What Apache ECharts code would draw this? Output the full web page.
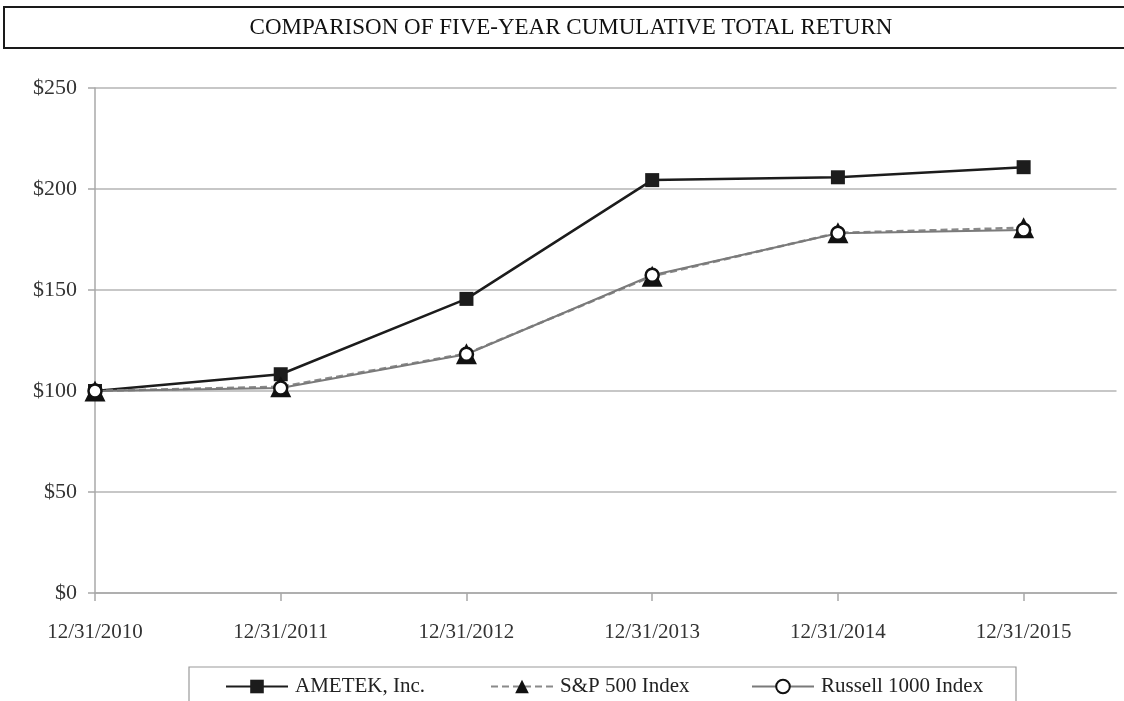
<!DOCTYPE html>
<html>
<head>
<meta charset="utf-8">
<script src="https://cdn.jsdelivr.net/npm/echarts@6/dist/echarts.min.js"></script>
<style>
html,body{margin:0;padding:0;background:#fff;}
#chart{width:1124px;height:701px;}
</style>
</head>
<body>
<div id="chart"></div>
<script>
const titleText = 'COMPARISON OF FIVE-YEAR CUMULATIVE TOTAL RETURN';
const categories = ['12/31/2010','12/31/2011','12/31/2012','12/31/2013','12/31/2014','12/31/2015'];
const ametek = [100, 108.3, 145.6, 204.4, 205.8, 210.8];
const sp500 = [100, 102.1, 118.5, 156.8, 178.3, 180.8];
const russell = [100, 101.5, 118.2, 157.3, 178.1, 179.7];
const yTicks = [0, 50, 100, 150, 200, 250];
const seriesNames = ['AMETEK, Inc.', 'S&P 500 Index', 'Russell 1000 Index'];

const FONT = "'Liberation Serif','Times New Roman',serif";
const toPairs = arr => arr.map((v, i) => [i, v]);
const chart = echarts.init(document.getElementById('chart'), null, {renderer: 'canvas'});

const legendBase = {
  top: 676, itemWidth: 62, itemHeight: 17, itemGap: 0, padding: 0,
  textStyle: {fontFamily: FONT, fontSize: 21, color: '#222', padding: [0,0,0,2]}
};

chart.setOption({
  animation: false,
  backgroundColor: '#fff',
  graphic: [
    {type: 'rect', shape: {x: 4, y: 7, width: 1130, height: 41}, style: {fill: 'none', stroke: '#1a1a1a', lineWidth: 2}},
    {type: 'text', x: 571, y: 28, style: {text: titleText, font: "23px 'Liberation Serif','Times New Roman',serif", fill: '#111', align: 'center', verticalAlign: 'middle'}},
    {type: 'rect', shape: {x: 189, y: 667, width: 827, height: 60}, style: {fill: 'none', stroke: '#9a9a9a', lineWidth: 1.2}}
  ],
  grid: {left: 95, right: 7.5, top: 88, bottom: 108, containLabel: false},
  xAxis: {
    type: 'value', min: 0, max: 5.5, interval: 1,
    axisLine: {show: true, lineStyle: {color: '#a8a8a8', width: 1.5}},
    axisTick: {show: true, length: 8, customValues: [0,1,2,3,4,5], lineStyle: {color: '#a8a8a8', width: 1.5}},
    axisLabel: {
      customValues: [0,1,2,3,4,5], margin: 29,
      formatter: v => (Number.isInteger(v) && categories[v]) ? categories[v] : '',
      fontFamily: FONT, fontSize: 21, color: '#333'
    },
    splitLine: {show: false}
  },
  yAxis: {
    type: 'value', min: 0, max: 250, interval: 50,
    axisLine: {show: true, lineStyle: {color: '#a8a8a8', width: 1.5}},
    axisTick: {show: true, length: 7, lineStyle: {color: '#a8a8a8', width: 1.5}},
    axisLabel: {margin: 18, formatter: v => yTicks.includes(v) ? '$' + v : '', fontFamily: FONT, fontSize: 22, color: '#333'},
    splitLine: {show: true, lineStyle: {color: '#b4b4b4', width: 1.5}}
  },
  legend: [
    Object.assign({}, legendBase, {left: 225, data: [seriesNames[0]]}),
    Object.assign({}, legendBase, {left: 490, data: [seriesNames[1]]}),
    Object.assign({}, legendBase, {left: 751, data: [seriesNames[2]]})
  ],
  series: [
    {
      name: seriesNames[0], type: 'line', data: toPairs(ametek), z: 3,
      symbol: 'rect', symbolSize: 14,
      lineStyle: {color: '#1c1c1c', width: 2.5},
      itemStyle: {color: '#1c1c1c'}
    },
    {
      name: seriesNames[1], type: 'line', data: toPairs(sp500), z: 4,
      symbol: 'triangle', symbolSize: [21, 21],
      lineStyle: {color: '#8a8a8a', width: 2.5, type: [7, 4]},
      itemStyle: {color: '#111'}
    },
    {
      name: seriesNames[2], type: 'line', data: toPairs(russell), z: 5,
      symbol: 'circle', symbolSize: 13,
      lineStyle: {color: '#7a7a7a', width: 2},
      itemStyle: {color: '#fff', borderColor: '#111', borderWidth: 2.5}
    }
  ]
});
</script>
</body>
</html>
